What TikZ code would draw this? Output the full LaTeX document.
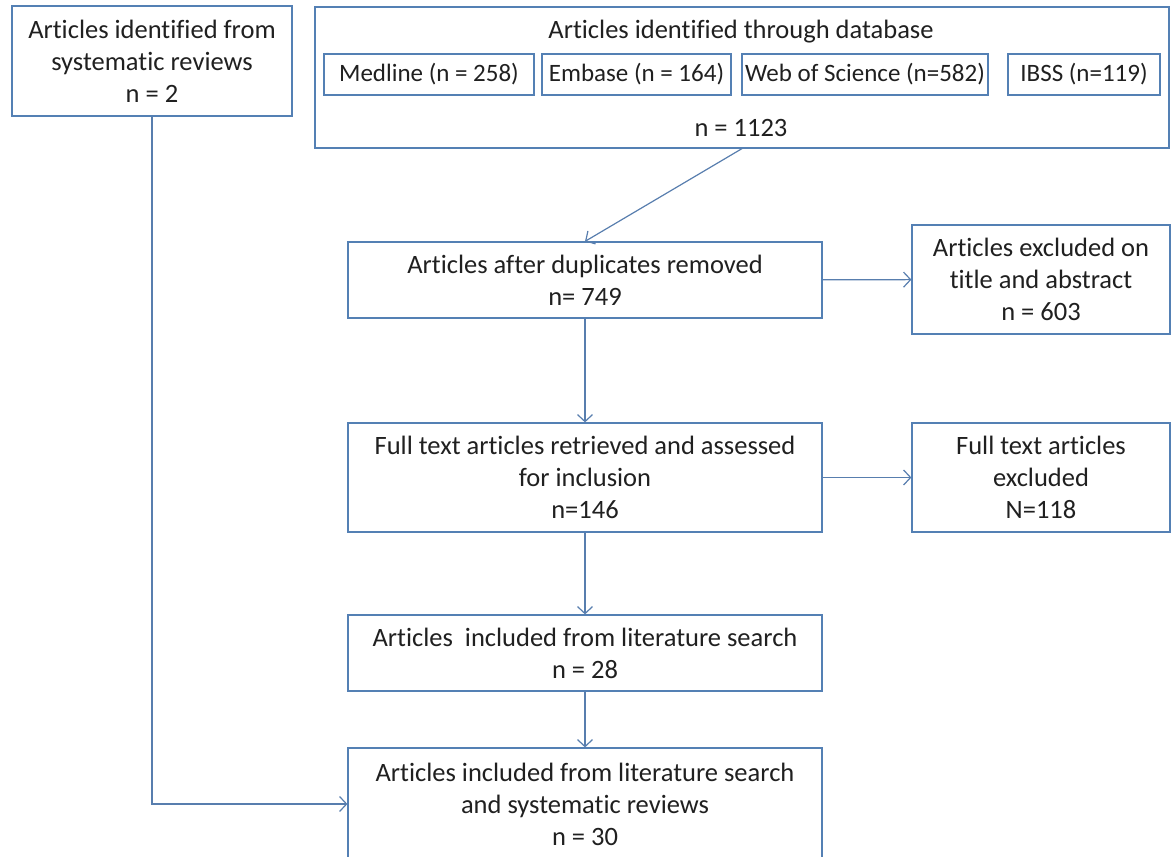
\documentclass[tikz,border=0pt]{standalone}
\usepackage{fontspec}
\setmainfont{Carlito}[Ligatures=NoCommon]
\usetikzlibrary{positioning,arrows.meta,calc}
\definecolor{frame}{RGB}{84,128,180}
\definecolor{link}{RGB}{88,126,174}
\definecolor{ink}{RGB}{32,32,32}
\tikzset{
  stage/.style={draw=frame, fill=white, align=center, inner sep=0pt,
    text=ink, line width=1.2pt, font=\fontsize{26.5}{32}\selectfont},
  srcbox/.style={stage, minimum height=41pt, font=\fontsize{25}{32}\selectfont},
  label/.style={text=ink, inner sep=0pt, font=\fontsize{26.5}{32}\selectfont},
  flow/.style={-{Straight Barb[length=7pt,width=15pt]}, line width=1.2pt, draw=link},
}
\begin{document}
\begin{tikzpicture}[x=1pt, y=-1pt]
  \useasboundingbox (0,0) rectangle (1174,856);
  \clip (0,0) rectangle (1174,856);
  % sources
  \node[stage, minimum width=280pt, minimum height=110pt] (sysrev) at (152,61)
    {Articles identified from\\systematic reviews\\n = 2};
  \node[stage, minimum width=854pt, minimum height=141pt] (dbase) at (742,77.5) {};
  \node[label] (dbtitle) at (741,32) {Articles identified through database};
  \node[label] (dbtotal) at (741,128) {n = 1123};
  \node[srcbox, minimum width=210pt] (medline) at (429,74.5) {Medline (n = 258)};
  \node[srcbox, minimum width=189pt] (embase) at (636.5,74.5) {Embase (n = 164)};
  \node[srcbox, minimum width=246pt] (wos) at (865,74.5) {Web of Science (n=582)};
  \node[srcbox, minimum width=152pt] (ibss) at (1084,74.5) {IBSS (n=119)};
  % screening
  \node[stage, minimum width=474pt, minimum height=76pt] (dedup) at (585,280)
    {Articles after duplicates removed\\n= 749};
  \node[stage, minimum width=258pt, minimum height=109pt] (exclta) at (1041,279.5)
    {Articles excluded on\\title and abstract\\n = 603};
  \node[stage, minimum width=474pt, minimum height=109pt] (fulltext) at (585,477.5)
    {Full text articles retrieved and assessed\\for inclusion\\n=146};
  \node[stage, minimum width=258pt, minimum height=109pt] (exclft) at (1041,477.5)
    {Full text articles\\excluded\\N=118};
  % included
  \node[stage, minimum width=474pt, minimum height=76pt] (incl) at (585,653)
    {Articles\ \ included from literature search\\n = 28};
  \node[stage, minimum width=474pt, minimum height=112pt] (final) at (585,804)
    {Articles included from literature search\\and systematic reviews\\n = 30};
  % connectors
  \draw[flow] (dbase.south) -- (dedup.north);
  \draw[flow] (dedup) -- (fulltext);
  \draw[flow] (dedup) -- (exclta);
  \draw[flow] (fulltext) -- (exclft);
  \draw[flow] (fulltext) -- (incl);
  \draw[flow] (incl) -- (final);
  \draw[flow] (sysrev.south) |- (final.west);
\end{tikzpicture}
\end{document}
